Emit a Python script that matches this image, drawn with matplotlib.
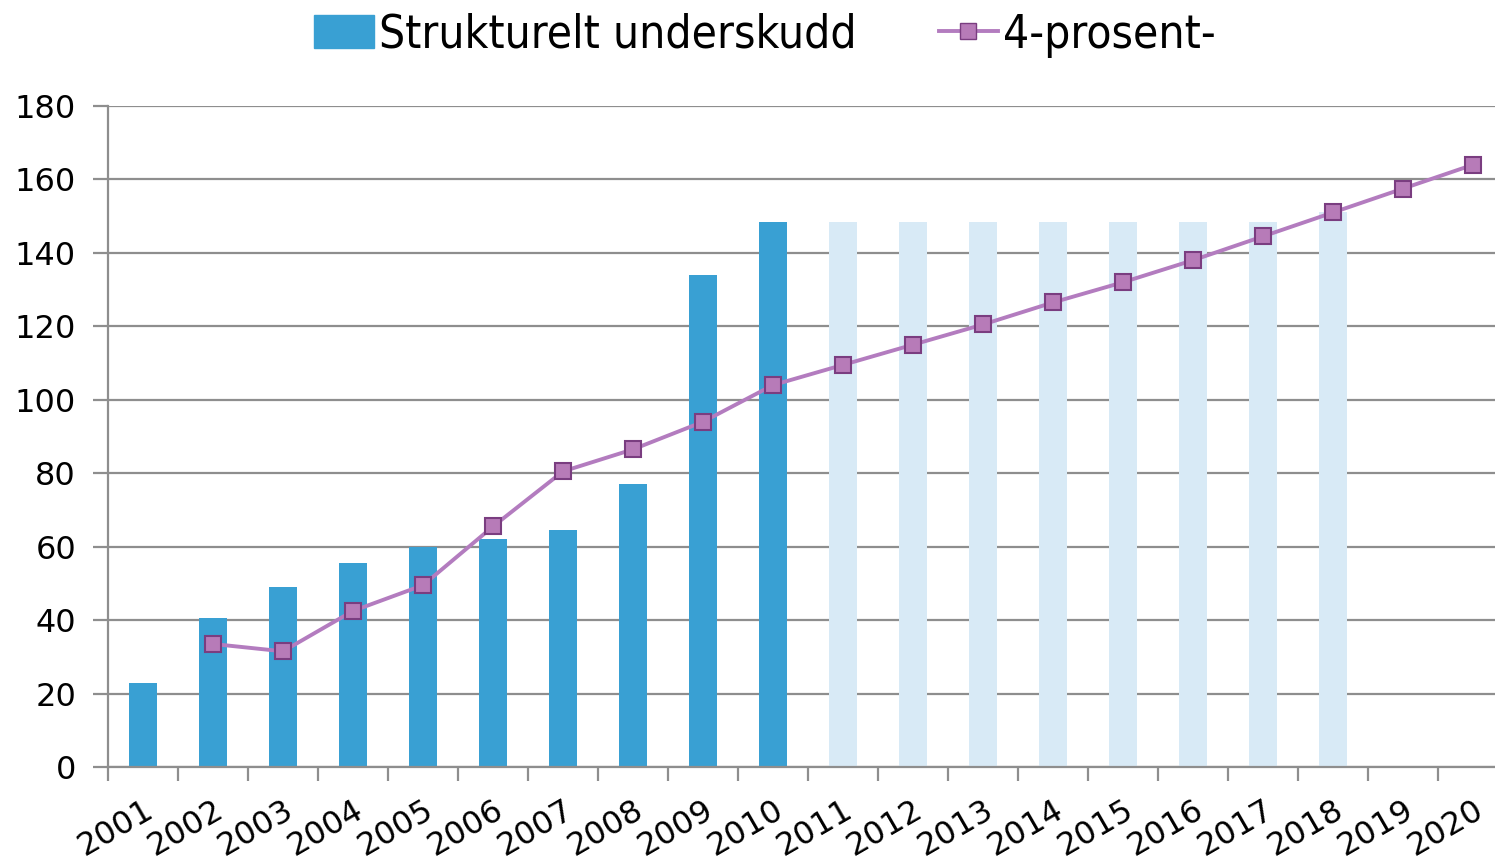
import numpy as np
import matplotlib
matplotlib.use("Agg")
import matplotlib.pyplot as plt
from matplotlib.patches import Patch
from matplotlib.lines import Line2D

years = [str(y) for y in range(2001, 2021)]
# structural deficit, actual (dark) and projected (light)
underskudd = [23, 40.5, 49, 55.5, 60, 62, 64.5, 77, 134, 148.5,
              148.5, 148.5, 148.5, 148.5, 148.5, 148.5, 148.5, 151, 0, 0]
is_projected = [False] * 10 + [True] * 10
# 4-percent path
prosent4 = [np.nan, 33.5, 31.5, 42.5, 49.5, 65.5, 80.5, 86.5, 94, 104,
            109.5, 115, 120.5, 126.5, 132, 138, 144.5, 151, 157.5, 164]

dark = "#39a0d3"
light = "#d8eaf6"
purple = "#b37cbf"
grid_c = "#8e8e8e"

plt.rcParams['font.family'] = ['DejaVu Sans']

fig = plt.figure(figsize=(14.95, 8.6), dpi=100)
ax = fig.add_axes([108 / 1495, 1 - 767 / 860, 1400 / 1495, 661 / 860])

x = np.arange(len(years))
colors = [light if p else dark for p in is_projected]
ax.bar(x, underskudd, width=0.4, color=colors, zorder=2)
ax.plot(x, prosent4, color=purple, lw=2.8, marker="s", markersize=11,
        markerfacecolor="#b77bb8", markeredgecolor="#7a3d80",
        markeredgewidth=1.5, zorder=3, clip_on=False)

ax.set_xlim(-0.5, 19.5)
ax.set_ylim(0, 180)
ax.set_yticks(range(0, 181, 20))
ax.yaxis.grid(True, color=grid_c, lw=1.6, zorder=0)
ax.set_axisbelow(True)

ax.set_xticks(x)
ax.set_xticklabels(years, rotation=30, ha="right", rotation_mode="anchor")
ax.set_xticks(np.arange(-0.5, 19.5, 1), minor=True)
ax.tick_params(axis="x", which="major", length=0, pad=20, labelsize=23)
ax.tick_params(axis="x", which="minor", length=10, width=1.6, color=grid_c)
ax.tick_params(axis="y", length=11, width=1.6, color=grid_c, labelsize=23, pad=12)

for s in ["top", "right"]:
    ax.spines[s].set_visible(False)
for s in ["left", "bottom"]:
    ax.spines[s].set_color(grid_c)
    ax.spines[s].set_linewidth(1.6)

handles = [Patch(color=dark),
           Line2D([0], [0], color=purple, lw=2.8, marker="s", markersize=11,
                  markerfacecolor="#b77bb8", markeredgecolor="#7a3d80")]
fig.legend(handles, ["Strukturelt underskudd", "4-prosent-"], ncol=2,
           loc="center", bbox_to_anchor=(765 / 1495, 1 - 35 / 860),
           frameon=False, prop={"size": 33, "stretch": "condensed"},
           handlelength=1.3, handletextpad=0.1, columnspacing=1.8)

fig.savefig("out.png", dpi=100)
